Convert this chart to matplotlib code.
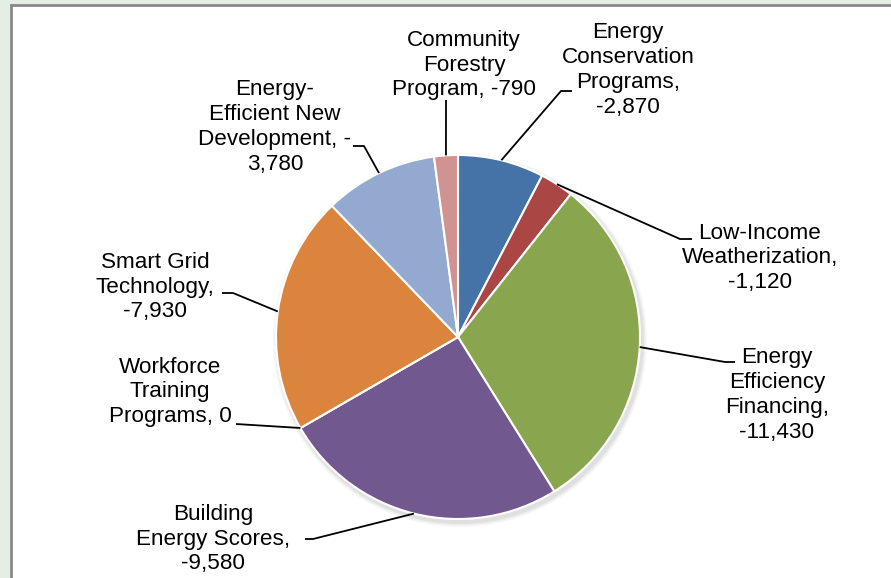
import matplotlib.pyplot as plt
import matplotlib.patches as mpatches
import numpy as np

plt.rcParams['font.family'] = ['Liberation Sans', 'DejaVu Sans']

# data
names = ["Energy\nConservation\nPrograms,", "Low-Income\nWeatherization,", "Energy\nEfficiency\nFinancing,",
         "Building\nEnergy Scores,", "Workforce\nTraining\nPrograms,", "Smart Grid\nTechnology,",
         "Energy-\nEfficient New\nDevelopment, -", "Community\nForestry\nProgram,"]
values = [-2870, -1120, -11430, -9580, 0, -7930, -3780, -790]
value_text = ["\n-2,870", "\n-1,120", "\n-11,430", "\n-9,580", " 0", "\n-7,930", "\n3,780", " -790"]
colors = ["#4572A7", "#AA4643", "#89A54E", "#71588F", "#4198AF", "#DB843D", "#93A9CF", "#D19392"]

W, H = 891, 578
fig = plt.figure(figsize=(W / 100, H / 100), dpi=100)
fig.patch.set_facecolor("#E4EEE4")
ax = fig.add_axes([0, 0, 1, 1])
ax.set_xlim(0, W)
ax.set_ylim(0, H)
ax.set_aspect('equal')
ax.axis('off')

def px(x, y):
    return x, H - y

# chart frame (cropped at right/bottom)
ax.add_patch(mpatches.Rectangle(px(11, 600), 900, 595, facecolor="white",
                                edgecolor="#888888", linewidth=2, zorder=0))

cx, cy = px(458, 337)
r = 182
# soft shadow
for k, a in enumerate([0.05, 0.04, 0.03]):
    ax.add_patch(mpatches.Circle((cx + 2, cy - 3), r + 2 + k * 1.5, color="black",
                                 alpha=a, linewidth=0, zorder=1))
wedges, _ = ax.pie([abs(v) for v in values], colors=colors, startangle=90, counterclock=False,
                   center=(cx, cy), radius=r, frame=True,
                   wedgeprops=dict(edgecolor="white", linewidth=1.5, zorder=2))
ax.set_xlim(0, W)
ax.set_ylim(0, H)
ax.axis('off')

# label layout: text center, leader path points (pixel coords)
text_pos = [(628, 70), (760, 258), (777, 395), (213, 539), (170, 392), (155, 287), (275, 127), (464, 65)]
leader = [[(561, 91), (572, 91)], [(680, 239), (692, 239)], [(725, 362), (735, 362)],
          [(313, 539), (305, 539)], [(236, 424)], [(233, 293), (222, 293)],
          [(364, 146), (353, 146)], [(446, 100)]]

for w, name, vt, tp, lp in zip(wedges, names, value_text, text_pos, leader):
    mid = np.deg2rad((w.theta1 + w.theta2) / 2)
    sx, sy = cx + r * np.cos(mid), cy + r * np.sin(mid)
    xs = [sx] + [px(*p)[0] for p in lp]
    ys = [sy] + [px(*p)[1] for p in lp]
    ax.plot(xs, ys, color="black", linewidth=1.3, zorder=3, solid_capstyle='butt')
    ax.text(*px(*tp), name + vt, ha='center', va='center', fontsize=16.2,
            linespacing=1.24, color="black", zorder=4)

fig.savefig("out.png", dpi=100, facecolor=fig.get_facecolor())
